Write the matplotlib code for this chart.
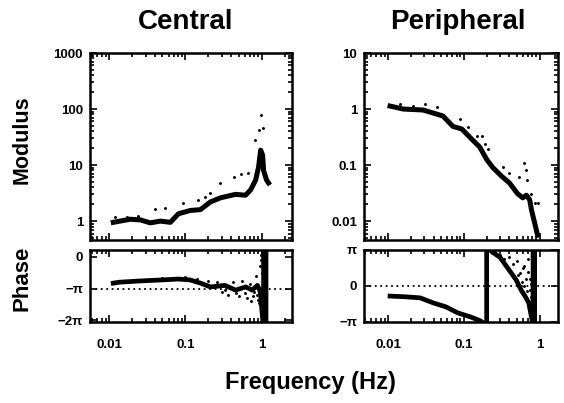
import numpy as np
import matplotlib.pyplot as plt
from matplotlib.ticker import LogLocator, NullFormatter, FixedLocator

plt.rcParams['font.family'] = ['Liberation Sans', 'DejaVu Sans']
plt.rcParams['font.weight'] = 'bold'

pi = np.pi

# Central - modulus (thick trace)
c_mod_f = [0.0113, 0.0189, 0.0256, 0.0346, 0.0469, 0.0634, 0.0808, 0.116, 0.157,
           0.213, 0.288, 0.454, 0.615, 0.716, 0.834, 0.91, 0.97, 1.03, 1.06, 1.16, 1.23]
c_mod_v = [0.95, 1.08, 1.05, 0.93, 1.0, 0.95, 1.35, 1.55, 1.6,
           2.2, 2.6, 3.0, 2.9, 3.6, 5.4, 9.2, 18.5, 15, 8, 5.4, 4.8]
# Central - modulus (dots)
c_dot_f = [0.012, 0.0173, 0.024, 0.0403, 0.0546, 0.094, 0.144, 0.183, 0.213, 0.288,
           0.43, 0.53, 0.67, 0.83, 0.91, 0.97, 1.03, 0.95]
c_dot_v = [1.16, 1.19, 1.23, 1.64, 1.71, 2.1, 2.37, 2.7, 3.2, 4.8,
           6.1, 6.9, 7.2, 28, 42, 78, 45, 12]

# Peripheral - modulus (thick trace)
p_mod_f = [0.0106, 0.0158, 0.0289, 0.0441, 0.053, 0.0716, 0.094, 0.127, 0.162, 0.2,
           0.24, 0.32, 0.40, 0.51, 0.60, 0.67, 0.74, 0.78, 0.86, 0.94]
p_mod_v = [1.13, 1.0, 0.96, 0.81, 0.75, 0.49, 0.44, 0.29, 0.21, 0.126,
           0.091, 0.062, 0.048, 0.031, 0.026, 0.029, 0.024, 0.016, 0.0093, 0.0056]
# Peripheral - modulus (dots)
p_dot_f = [0.0144, 0.0213, 0.0307, 0.044, 0.089, 0.113, 0.148, 0.172, 0.189, 0.21,
           0.33, 0.40, 0.53, 0.63, 0.67, 0.69, 0.78, 0.86, 0.94]
p_dot_v = [1.23, 1.13, 1.23, 1.09, 0.66, 0.47, 0.33, 0.33, 0.235, 0.19,
           0.094, 0.073, 0.060, 0.11, 0.083, 0.055, 0.031, 0.021, 0.021]

# Central - phase (in units of pi)
c_ph_f = [0.0113, 0.0135, 0.0256, 0.0469, 0.0808, 0.116, 0.158, 0.213, 0.33, 0.454,
          0.62, 0.75, 0.88, 0.96, 1.06, 1.06, 1.14, 1.14]
c_ph_v = [-0.83, -0.80, -0.76, -0.73, -0.70, -0.73, -0.83, -0.95, -0.90, -1.05,
          -0.95, -1.05, -0.9, -1.1, -2.3, 0.4, 0.4, -2.3]
c_phd_f = [0.03, 0.05, 0.07, 0.1, 0.14, 0.2, 0.26, 0.3, 0.36, 0.42, 0.5, 0.56,
           0.64, 0.7, 0.78, 0.84, 0.9, 0.95, 1.0, 0.98, 0.6, 0.72, 0.8, 0.88,
           0.93, 0.46, 0.33, 0.97, 1.02]
c_phd_v = [-0.72, -0.68, -0.7, -0.65, -0.7, -0.75, -0.8, -1.1, -1.2, -0.8, -1.25,
           -0.75, -1.3, -0.85, -1.25, -0.6, -1.35, -0.3, -0.5, 0.05, -1.15, -1.4,
           -1.1, -1.2, -1.45, -1.15, -1.05, -0.1, -1.6]

# Peripheral - phase (in units of pi)
p_ph_f = [0.0106, 0.017, 0.0265, 0.0395, 0.058, 0.0838, 0.123, 0.166, 0.2, 0.2,
          0.238, 0.3, 0.37, 0.49, 0.57, 0.65, 0.72, 0.82, 0.82, 0.86, 0.86]
p_ph_v = [-0.28, -0.3, -0.33, -0.47, -0.58, -0.75, -0.86, -0.97, -1.1, 1.1,
          0.94, 0.8, 0.53, 0.17, -0.11, -0.3, -0.47, -1.1, 1.1, 1.1, -1.1]
p_phd_f = [0.26, 0.3, 0.34, 0.4, 0.45, 0.5, 0.55, 0.6, 0.66, 0.7, 0.75, 0.8,
           0.52, 0.58, 0.63, 0.68, 0.74, 0.78, 0.62, 0.7, 0.76]
p_phd_v = [0.95, 0.85, 0.75, 0.8, 0.6, 0.7, 0.35, 0.5, 0.2, 0.75, -0.1, 0.5,
           0.3, 0.1, 0.0, -0.15, 0.2, -0.3, 0.55, 0.4, 0.05]

fig = plt.figure(figsize=(5.64, 4.03), dpi=100)
W, H = 564, 403


def box(x0, y0, x1, y1):
    return fig.add_axes([x0 / W, 1 - y1 / H, (x1 - x0) / W, (y1 - y0) / H])


ax_cm = box(90, 53, 292, 240)
ax_cp = box(90, 250, 292, 322)
ax_pm = box(364, 53, 558, 240)
ax_pp = box(364, 250, 558, 322)

c_xlim = (0.0056, 2.5)
p_xlim = (0.0048, 1.75)


def style(ax, xlim, xlabels):
    ax.set_xscale('log')
    ax.set_xlim(*xlim)
    ax.xaxis.set_major_locator(FixedLocator([0.01, 0.1, 1]))
    ax.xaxis.set_minor_locator(LogLocator(base=10, subs=np.arange(2, 10)))
    ax.xaxis.set_minor_formatter(NullFormatter())
    if xlabels:
        ax.set_xticklabels(['0.01', '0.1', '1'])
    else:
        ax.set_xticklabels([])
    ax.tick_params(which='both', direction='in', top=True, right=True,
                   labelsize=9.5, width=1.2)
    ax.tick_params(which='major', length=5)
    ax.tick_params(which='minor', length=3)
    ax.tick_params(axis='x', pad=12)
    ax.tick_params(axis='y', pad=5)
    for s in ax.spines.values():
        s.set_linewidth(1.8)


# Central modulus
ax_cm.plot(c_mod_f, c_mod_v, color='black', lw=3.6, solid_joinstyle='round')
ax_cm.plot(c_dot_f, c_dot_v, 'k.', ms=2.2)
ax_cm.set_yscale('log')
ax_cm.set_ylim(0.46, 1000)
ax_cm.set_yticks([1, 10, 100, 1000])
ax_cm.set_yticklabels(['1', '10', '100', '1000'])
style(ax_cm, c_xlim, False)

# Peripheral modulus
ax_pm.plot(p_mod_f, p_mod_v, color='black', lw=3.6, solid_joinstyle='round')
ax_pm.plot(p_dot_f, p_dot_v, 'k.', ms=2.2)
ax_pm.set_yscale('log')
ax_pm.set_ylim(0.0046, 10)
ax_pm.set_yticks([0.01, 0.1, 1, 10])
ax_pm.set_yticklabels(['0.01', '0.1', '1', '10'])
style(ax_pm, p_xlim, False)

# Central phase
ax_cp.axhline(-pi, color='black', lw=1.3, ls=(0, (1, 2)))
ax_cp.plot(c_ph_f, np.array(c_ph_v) * pi, color='black', lw=3.4, solid_joinstyle='round')
ax_cp.plot(c_phd_f, np.array(c_phd_v) * pi, 'k.', ms=2.2)
ax_cp.set_ylim(-2.06 * pi, 0.22 * pi)
ax_cp.set_yticks([0, -pi, -2 * pi])
ax_cp.set_yticklabels(['0', '−π', '−2π'])
style(ax_cp, c_xlim, True)

# Peripheral phase
ax_pp.axhline(0, color='black', lw=1.3, ls=(0, (1, 2)))
ax_pp.plot(p_ph_f, np.array(p_ph_v) * pi, color='black', lw=3.4, solid_joinstyle='round')
ax_pp.plot(p_phd_f, np.array(p_phd_v) * pi, 'k.', ms=2.2)
ax_pp.set_ylim(-pi, pi)
ax_pp.set_yticks([pi, 0, -pi])
ax_pp.set_yticklabels(['π', '0', '−π'])
style(ax_pp, p_xlim, True)

fig.text(186 / W, 1 - 22 / H, 'Central', ha='center', va='center', fontsize=20, fontweight='bold')
fig.text(458 / W, 1 - 22 / H, 'Peripheral', ha='center', va='center', fontsize=20, fontweight='bold')
fig.text(22 / W, 1 - 140 / H, 'Modulus', ha='center', va='center', rotation=90,
         fontsize=15.5, fontweight='bold')
fig.text(22 / W, 1 - 278 / H, 'Phase', ha='center', va='center', rotation=90,
         fontsize=16, fontweight='bold')
fig.text(310 / W, 1 - 382 / H, 'Frequency (Hz)', ha='center', va='center',
         fontsize=17, fontweight='bold')

fig.savefig('out.png', dpi=100)
